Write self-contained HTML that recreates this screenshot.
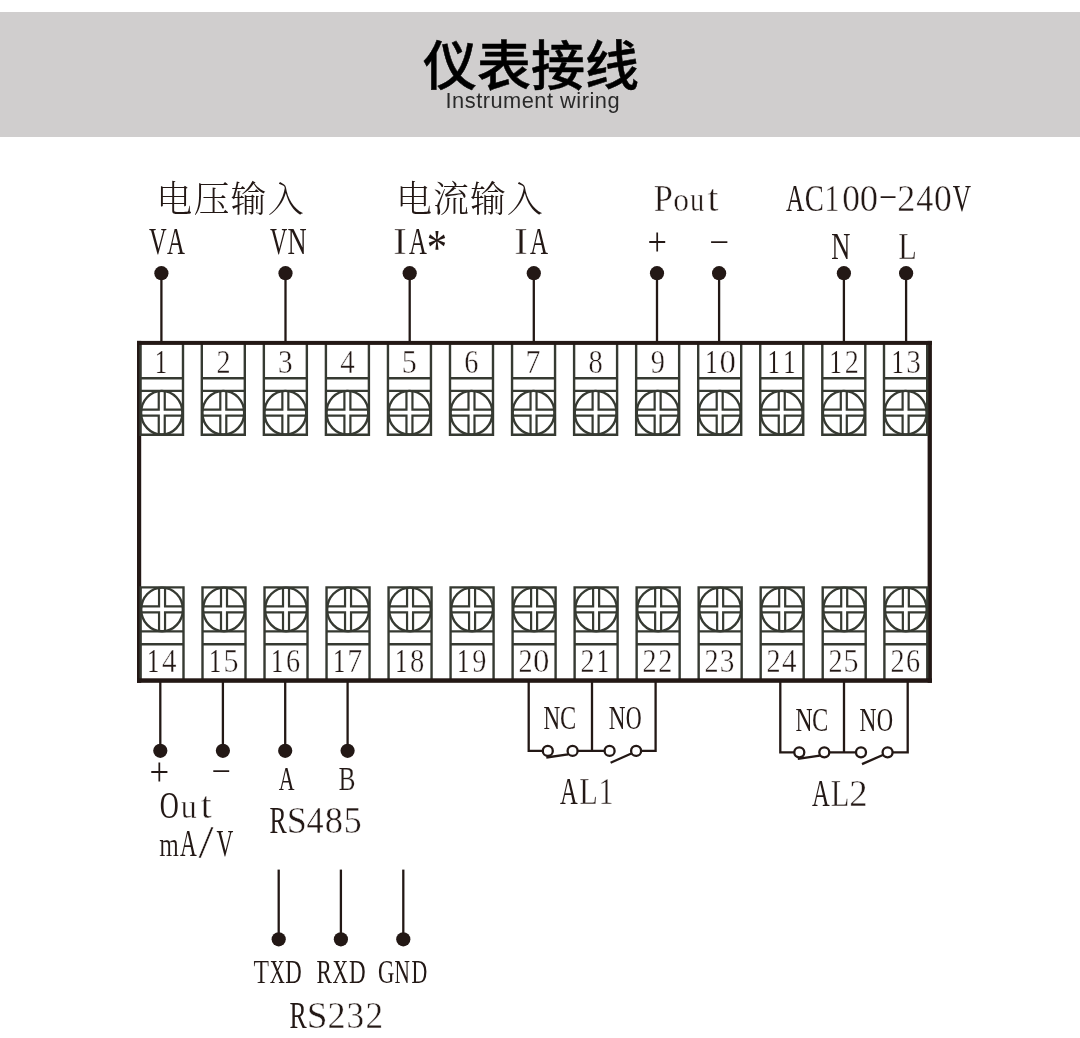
<!DOCTYPE html>
<html lang="zh-CN">
<head>
<meta charset="utf-8">
<title>仪表接线 Instrument wiring</title>
<style>
html,body{margin:0;padding:0;background:#fff;}
body{width:1080px;height:1038px;position:relative;overflow:hidden;}
.banner{position:absolute;left:0;top:11.7px;width:1080px;height:125px;background:#d0cece;}
.title{position:absolute;left:0;top:32px;width:1062px;margin:0;text-align:center;white-space:nowrap;
 font-family:"Liberation Sans","Noto Sans CJK SC",sans-serif;font-weight:500;font-size:54px;line-height:70px;color:#000;letter-spacing:0;-webkit-text-stroke:0.5px #000;}
.subtitle{position:absolute;left:0;top:88px;width:1065.6px;margin:0;text-align:center;white-space:nowrap;
 font-family:"Liberation Sans","Noto Sans CJK SC",sans-serif;font-weight:400;font-size:21.8px;line-height:24px;letter-spacing:0.5px;color:#2a2a2a;}
svg{position:absolute;left:0;top:0;will-change:transform;}
.title,.subtitle{will-change:transform;}
.subtitle{transform:translateY(0.7px);}
svg text{font-family:"Liberation Serif","Noto Serif CJK SC",serif;white-space:pre;}
svg text.cn{font-family:"Liberation Serif","Noto Serif CJK SC",serif;font-weight:300;}
</style>
</head>
<body>
<div class="banner"></div>
<h1 class="title">仪表接线</h1>
<p class="subtitle">Instrument wiring</p>
<svg width="1080" height="1038" viewBox="0 0 1080 1038">
<g class="frame" fill="#231815">
<rect x="137" y="340.9" width="4.2" height="341.9"/>
<rect x="927.6" y="340.9" width="4.3" height="341.9"/>
</g>
<g class="terminals" fill="none" stroke="#363a32" stroke-width="2.4">
<path d="M140.5 344V434.7H183V344"/><path d="M140.5 378.2H183M140.5 390.85H183"/><ellipse cx="161.75" cy="412.7" rx="20.65" ry="21.8"/><path d="M158.75 391.2V409.7H140.5M164.75 391.2V409.7H183M158.75 434.2V415.7H140.5M164.75 434.2V415.7H183" stroke-width="2.2"/>
<path d="M201.8 344V434.7H244.8V344"/><path d="M201.8 378.2H244.8M201.8 390.85H244.8"/><ellipse cx="223.3" cy="412.7" rx="20.9" ry="21.8"/><path d="M220.3 391.2V409.7H201.8M226.3 391.2V409.7H244.8M220.3 434.2V415.7H201.8M226.3 434.2V415.7H244.8" stroke-width="2.2"/>
<path d="M263.85 344V434.7H306.85V344"/><path d="M263.85 378.2H306.85M263.85 390.85H306.85"/><ellipse cx="285.35" cy="412.7" rx="20.9" ry="21.8"/><path d="M282.35 391.2V409.7H263.85M288.35 391.2V409.7H306.85M282.35 434.2V415.7H263.85M288.35 434.2V415.7H306.85" stroke-width="2.2"/>
<path d="M325.9 344V434.7H368.9V344"/><path d="M325.9 378.2H368.9M325.9 390.85H368.9"/><ellipse cx="347.4" cy="412.7" rx="20.9" ry="21.8"/><path d="M344.4 391.2V409.7H325.9M350.4 391.2V409.7H368.9M344.4 434.2V415.7H325.9M350.4 434.2V415.7H368.9" stroke-width="2.2"/>
<path d="M387.95 344V434.7H430.95V344"/><path d="M387.95 378.2H430.95M387.95 390.85H430.95"/><ellipse cx="409.45" cy="412.7" rx="20.9" ry="21.8"/><path d="M406.45 391.2V409.7H387.95M412.45 391.2V409.7H430.95M406.45 434.2V415.7H387.95M412.45 434.2V415.7H430.95" stroke-width="2.2"/>
<path d="M450 344V434.7H493V344"/><path d="M450 378.2H493M450 390.85H493"/><ellipse cx="471.5" cy="412.7" rx="20.9" ry="21.8"/><path d="M468.5 391.2V409.7H450M474.5 391.2V409.7H493M468.5 434.2V415.7H450M474.5 434.2V415.7H493" stroke-width="2.2"/>
<path d="M512.05 344V434.7H555.05V344"/><path d="M512.05 378.2H555.05M512.05 390.85H555.05"/><ellipse cx="533.55" cy="412.7" rx="20.9" ry="21.8"/><path d="M530.55 391.2V409.7H512.05M536.55 391.2V409.7H555.05M530.55 434.2V415.7H512.05M536.55 434.2V415.7H555.05" stroke-width="2.2"/>
<path d="M574.1 344V434.7H617.1V344"/><path d="M574.1 378.2H617.1M574.1 390.85H617.1"/><ellipse cx="595.6" cy="412.7" rx="20.9" ry="21.8"/><path d="M592.6 391.2V409.7H574.1M598.6 391.2V409.7H617.1M592.6 434.2V415.7H574.1M598.6 434.2V415.7H617.1" stroke-width="2.2"/>
<path d="M636.15 344V434.7H679.15V344"/><path d="M636.15 378.2H679.15M636.15 390.85H679.15"/><ellipse cx="657.65" cy="412.7" rx="20.9" ry="21.8"/><path d="M654.65 391.2V409.7H636.15M660.65 391.2V409.7H679.15M654.65 434.2V415.7H636.15M660.65 434.2V415.7H679.15" stroke-width="2.2"/>
<path d="M698.2 344V434.7H741.2V344"/><path d="M698.2 378.2H741.2M698.2 390.85H741.2"/><ellipse cx="719.7" cy="412.7" rx="20.9" ry="21.8"/><path d="M716.7 391.2V409.7H698.2M722.7 391.2V409.7H741.2M716.7 434.2V415.7H698.2M722.7 434.2V415.7H741.2" stroke-width="2.2"/>
<path d="M760.25 344V434.7H803.25V344"/><path d="M760.25 378.2H803.25M760.25 390.85H803.25"/><ellipse cx="781.75" cy="412.7" rx="20.9" ry="21.8"/><path d="M778.75 391.2V409.7H760.25M784.75 391.2V409.7H803.25M778.75 434.2V415.7H760.25M784.75 434.2V415.7H803.25" stroke-width="2.2"/>
<path d="M822.3 344V434.7H865.3V344"/><path d="M822.3 378.2H865.3M822.3 390.85H865.3"/><ellipse cx="843.8" cy="412.7" rx="20.9" ry="21.8"/><path d="M840.8 391.2V409.7H822.3M846.8 391.2V409.7H865.3M840.8 434.2V415.7H822.3M846.8 434.2V415.7H865.3" stroke-width="2.2"/>
<path d="M884 344V434.7H927.2V344"/><path d="M884 378.2H927.2M884 390.85H927.2"/><ellipse cx="905.6" cy="412.7" rx="21" ry="21.8"/><path d="M902.6 391.2V409.7H884M908.6 391.2V409.7H927.2M902.6 434.2V415.7H884M908.6 434.2V415.7H927.2" stroke-width="2.2"/>
<path d="M140.6 679.4V587.4H183.5V679.4"/><path d="M140.6 631.4H183.5M140.6 644.2H183.5"/><ellipse cx="162.05" cy="609.4" rx="20.85" ry="21.8"/><path d="M159.05 587.9V606.4H140.6M165.05 587.9V606.4H183.5M159.05 630.9V612.4H140.6M165.05 630.9V612.4H183.5" stroke-width="2.2"/>
<path d="M202.5 679.4V587.4H245.5V679.4"/><path d="M202.5 631.4H245.5M202.5 644.2H245.5"/><ellipse cx="224" cy="609.4" rx="20.9" ry="21.8"/><path d="M221 587.9V606.4H202.5M227 587.9V606.4H245.5M221 630.9V612.4H202.5M227 630.9V612.4H245.5" stroke-width="2.2"/>
<path d="M264.52 679.4V587.4H307.52V679.4"/><path d="M264.52 631.4H307.52M264.52 644.2H307.52"/><ellipse cx="286.02" cy="609.4" rx="20.9" ry="21.8"/><path d="M283.02 587.9V606.4H264.52M289.02 587.9V606.4H307.52M283.02 630.9V612.4H264.52M289.02 630.9V612.4H307.52" stroke-width="2.2"/>
<path d="M326.54 679.4V587.4H369.54V679.4"/><path d="M326.54 631.4H369.54M326.54 644.2H369.54"/><ellipse cx="348.04" cy="609.4" rx="20.9" ry="21.8"/><path d="M345.04 587.9V606.4H326.54M351.04 587.9V606.4H369.54M345.04 630.9V612.4H326.54M351.04 630.9V612.4H369.54" stroke-width="2.2"/>
<path d="M388.56 679.4V587.4H431.56V679.4"/><path d="M388.56 631.4H431.56M388.56 644.2H431.56"/><ellipse cx="410.06" cy="609.4" rx="20.9" ry="21.8"/><path d="M407.06 587.9V606.4H388.56M413.06 587.9V606.4H431.56M407.06 630.9V612.4H388.56M413.06 630.9V612.4H431.56" stroke-width="2.2"/>
<path d="M450.58 679.4V587.4H493.58V679.4"/><path d="M450.58 631.4H493.58M450.58 644.2H493.58"/><ellipse cx="472.08" cy="609.4" rx="20.9" ry="21.8"/><path d="M469.08 587.9V606.4H450.58M475.08 587.9V606.4H493.58M469.08 630.9V612.4H450.58M475.08 630.9V612.4H493.58" stroke-width="2.2"/>
<path d="M512.6 679.4V587.4H555.6V679.4"/><path d="M512.6 631.4H555.6M512.6 644.2H555.6"/><ellipse cx="534.1" cy="609.4" rx="20.9" ry="21.8"/><path d="M531.1 587.9V606.4H512.6M537.1 587.9V606.4H555.6M531.1 630.9V612.4H512.6M537.1 630.9V612.4H555.6" stroke-width="2.2"/>
<path d="M574.62 679.4V587.4H617.62V679.4"/><path d="M574.62 631.4H617.62M574.62 644.2H617.62"/><ellipse cx="596.12" cy="609.4" rx="20.9" ry="21.8"/><path d="M593.12 587.9V606.4H574.62M599.12 587.9V606.4H617.62M593.12 630.9V612.4H574.62M599.12 630.9V612.4H617.62" stroke-width="2.2"/>
<path d="M636.64 679.4V587.4H679.64V679.4"/><path d="M636.64 631.4H679.64M636.64 644.2H679.64"/><ellipse cx="658.14" cy="609.4" rx="20.9" ry="21.8"/><path d="M655.14 587.9V606.4H636.64M661.14 587.9V606.4H679.64M655.14 630.9V612.4H636.64M661.14 630.9V612.4H679.64" stroke-width="2.2"/>
<path d="M698.66 679.4V587.4H741.66V679.4"/><path d="M698.66 631.4H741.66M698.66 644.2H741.66"/><ellipse cx="720.16" cy="609.4" rx="20.9" ry="21.8"/><path d="M717.16 587.9V606.4H698.66M723.16 587.9V606.4H741.66M717.16 630.9V612.4H698.66M723.16 630.9V612.4H741.66" stroke-width="2.2"/>
<path d="M760.68 679.4V587.4H803.68V679.4"/><path d="M760.68 631.4H803.68M760.68 644.2H803.68"/><ellipse cx="782.18" cy="609.4" rx="20.9" ry="21.8"/><path d="M779.18 587.9V606.4H760.68M785.18 587.9V606.4H803.68M779.18 630.9V612.4H760.68M785.18 630.9V612.4H803.68" stroke-width="2.2"/>
<path d="M822.7 679.4V587.4H865.7V679.4"/><path d="M822.7 631.4H865.7M822.7 644.2H865.7"/><ellipse cx="844.2" cy="609.4" rx="20.9" ry="21.8"/><path d="M841.2 587.9V606.4H822.7M847.2 587.9V606.4H865.7M841.2 630.9V612.4H822.7M847.2 630.9V612.4H865.7" stroke-width="2.2"/>
<path d="M884.4 679.4V587.4H927.3V679.4"/><path d="M884.4 631.4H927.3M884.4 644.2H927.3"/><ellipse cx="905.85" cy="609.4" rx="20.85" ry="21.8"/><path d="M902.85 587.9V606.4H884.4M908.85 587.9V606.4H927.3M902.85 630.9V612.4H884.4M908.85 630.9V612.4H927.3" stroke-width="2.2"/>
</g>
<g class="frame" fill="#231815">
<rect x="137" y="340.9" width="794.9" height="4"/>
<rect x="137" y="678.3" width="794.9" height="4.5"/>
</g>
<g class="wires" fill="none" stroke="#231815" stroke-width="2.3">
<path d="M161.4 273V341.5"/>
<path d="M285.5 273V341.5"/>
<path d="M409.7 273V341.5"/>
<path d="M533.8 273V341.5"/>
<path d="M657 273V341.5"/>
<path d="M719.1 273V341.5"/>
<path d="M843.9 273V341.5"/>
<path d="M906.1 273V341.5"/>
<path d="M160.3 682V750.8"/>
<path d="M222.9 682V750.8"/>
<path d="M285.2 682V750.8"/>
<path d="M347.6 682V750.8"/>
<path d="M278.7 869.6V939.3"/>
<path d="M340.9 869.6V939.3"/>
<path d="M403.3 869.6V939.3"/>
<path d="M528.7 682V750.9H542.8M577.6 750.9H604.6M592 682V750.9M641.1 750.9H655.6V682M546.3 757.5L568.1 754.3M610.6 762.7L631.9 753.3"/>
<circle cx="547.8" cy="750.9" r="5"/>
<circle cx="572.6" cy="750.9" r="5"/>
<circle cx="609.6" cy="750.9" r="5"/>
<circle cx="636.1" cy="750.9" r="5"/>
<path d="M780.3 682V752.3H794.3M829.3 752.3H856M844 682V752.3M892.6 752.3H907.7V682M797.8 758.9L819.8 755.7M862 764.1L883.4 754.7"/>
<circle cx="799.3" cy="752.3" r="5"/>
<circle cx="824.3" cy="752.3" r="5"/>
<circle cx="861" cy="752.3" r="5"/>
<circle cx="887.6" cy="752.3" r="5"/>
</g>
<g class="dots" fill="#231815">
<circle cx="161.4" cy="273.2" r="7.1"/>
<circle cx="285.5" cy="273.2" r="7.1"/>
<circle cx="409.7" cy="273.2" r="7.1"/>
<circle cx="533.8" cy="273.2" r="7.1"/>
<circle cx="657" cy="273.2" r="7.1"/>
<circle cx="719.1" cy="273.2" r="7.1"/>
<circle cx="843.9" cy="273.2" r="7.1"/>
<circle cx="906.1" cy="273.2" r="7.1"/>
<circle cx="160.3" cy="750.8" r="7.1"/>
<circle cx="222.9" cy="750.8" r="7.1"/>
<circle cx="285.2" cy="750.8" r="7.1"/>
<circle cx="347.6" cy="750.8" r="7.1"/>
<circle cx="278.7" cy="939.3" r="7.1"/>
<circle cx="340.9" cy="939.3" r="7.1"/>
<circle cx="403.3" cy="939.3" r="7.1"/>
</g>
<g class="labels">
<text class="cn" x="156.3" y="212" font-size="36" letter-spacing="1.15" fill="#231815">电压输入</text>
<text class="cn" x="396.1" y="212" font-size="36" letter-spacing="0.9" fill="#231815">电流输入</text>
<text aria-label="VA" font-size="38.63" fill="#231815"><tspan x="148.95" y="253.6" textLength="17.66" lengthAdjust="spacingAndGlyphs">V</tspan><tspan x="167.11" y="253.6" textLength="17.92" lengthAdjust="spacingAndGlyphs">A</tspan></text>
<text aria-label="VN" font-size="38.63" fill="#231815"><tspan x="270.08" y="253.6" textLength="17.24" lengthAdjust="spacingAndGlyphs">V</tspan><tspan x="287.39" y="253.6" textLength="19.17" lengthAdjust="spacingAndGlyphs">N</tspan></text>
<text aria-label="IA*" font-size="38.63" fill="#231815"><tspan x="393.23" y="253.6" textLength="13.51" lengthAdjust="spacingAndGlyphs" stroke="#fff" stroke-width="0.45">I</tspan><tspan x="409.01" y="253.6" textLength="17.87" lengthAdjust="spacingAndGlyphs">A</tspan><tspan x="426.86" y="264.46" textLength="20.33" lengthAdjust="spacingAndGlyphs" font-size="50.72">*</tspan></text>
<text aria-label="IA" font-size="38.63" fill="#231815"><tspan x="514.26" y="253.6" textLength="13.51" lengthAdjust="spacingAndGlyphs" stroke="#fff" stroke-width="0.45">I</tspan><tspan x="529.95" y="253.6" textLength="18.05" lengthAdjust="spacingAndGlyphs">A</tspan></text>
<text aria-label="Pout" font-size="38.63" fill="#231815"><tspan x="653.79" y="210.6" textLength="19.11" lengthAdjust="spacingAndGlyphs" stroke="#fff" stroke-width="0.45">P</tspan><tspan x="673.21" y="210.6" textLength="15.81" lengthAdjust="spacingAndGlyphs" font-size="33.99" stroke="#fff" stroke-width="0.45">o</tspan><tspan x="689.97" y="210.6" textLength="14.26" lengthAdjust="spacingAndGlyphs" font-size="33.99" stroke="#fff" stroke-width="0.45">u</tspan><tspan x="707.4" y="210.6" textLength="10.95" lengthAdjust="spacingAndGlyphs" stroke="#fff" stroke-width="0.45">t</tspan></text>
<text aria-label="+" font-size="38.63" fill="#231815"><tspan x="647.51" y="255.32" textLength="19.39" lengthAdjust="spacingAndGlyphs" font-size="39.07">+</tspan></text>
<text aria-label="-" font-size="38.63" fill="#231815"><tspan x="708.78" y="247.81" textLength="20.9" lengthAdjust="spacingAndGlyphs" font-size="22.76">-</tspan></text>
<text aria-label="AC100-240V" font-size="38.63" fill="#231815"><tspan x="785.9" y="210.8" textLength="18.23" lengthAdjust="spacingAndGlyphs">A</tspan><tspan x="804.87" y="210.8" textLength="19.16" lengthAdjust="spacingAndGlyphs" stroke="#fff" stroke-width="0.25">C</tspan><tspan x="824.25" y="210.8" textLength="15.34" lengthAdjust="spacingAndGlyphs" stroke="#fff" stroke-width="0.44">1</tspan><tspan x="842.2" y="210.8" textLength="17.7" lengthAdjust="spacingAndGlyphs" stroke="#fff" stroke-width="0.45">0</tspan><tspan x="859.76" y="210.8" textLength="18.29" lengthAdjust="spacingAndGlyphs" stroke="#fff" stroke-width="0.45">0</tspan><tspan x="878.62" y="202.76" textLength="19.1" lengthAdjust="spacingAndGlyphs" font-size="22.76">-</tspan><tspan x="897.16" y="210.8" textLength="18.09" lengthAdjust="spacingAndGlyphs" stroke="#fff" stroke-width="0.45">2</tspan><tspan x="916.18" y="210.8" textLength="17.1" lengthAdjust="spacingAndGlyphs" stroke="#fff" stroke-width="0.45">4</tspan><tspan x="934" y="210.8" textLength="17.7" lengthAdjust="spacingAndGlyphs" stroke="#fff" stroke-width="0.45">0</tspan><tspan x="952.67" y="210.8" textLength="18.27" lengthAdjust="spacingAndGlyphs">V</tspan></text>
<text aria-label="N" font-size="38.63" fill="#231815"><tspan x="831.29" y="259" textLength="19.17" lengthAdjust="spacingAndGlyphs">N</tspan></text>
<text aria-label="L" font-size="38.63" fill="#231815"><tspan x="898.37" y="259" textLength="18.61" lengthAdjust="spacingAndGlyphs" stroke="#fff" stroke-width="0.42">L</tspan></text>
<text aria-label="1" font-size="34.4" fill="#231815"><tspan x="154.78" y="372.9" textLength="12.36" lengthAdjust="spacingAndGlyphs" stroke="#fff" stroke-width="0.13">1</tspan></text>
<text aria-label="2" font-size="34.4" fill="#231815"><tspan x="216.46" y="372.9" textLength="14.09" lengthAdjust="spacingAndGlyphs" stroke="#fff" stroke-width="0.45">2</tspan></text>
<text aria-label="3" font-size="34.4" fill="#231815"><tspan x="277.95" y="372.9" textLength="14.65" lengthAdjust="spacingAndGlyphs" stroke="#fff" stroke-width="0.45">3</tspan></text>
<text aria-label="4" font-size="34.4" fill="#231815"><tspan x="340.13" y="372.9" textLength="14.52" lengthAdjust="spacingAndGlyphs" stroke="#fff" stroke-width="0.45">4</tspan></text>
<text aria-label="5" font-size="34.4" fill="#231815"><tspan x="401.7" y="372.9" textLength="15.02" lengthAdjust="spacingAndGlyphs" stroke="#fff" stroke-width="0.45">5</tspan></text>
<text aria-label="6" font-size="34.4" fill="#231815"><tspan x="464.28" y="372.9" textLength="14.16" lengthAdjust="spacingAndGlyphs" stroke="#fff" stroke-width="0.45">6</tspan></text>
<text aria-label="7" font-size="34.4" fill="#231815"><tspan x="525.58" y="372.9" textLength="14.93" lengthAdjust="spacingAndGlyphs" stroke="#fff" stroke-width="0.45">7</tspan></text>
<text aria-label="8" font-size="34.4" fill="#231815"><tspan x="588.51" y="372.9" textLength="14.27" lengthAdjust="spacingAndGlyphs" stroke="#fff" stroke-width="0.45">8</tspan></text>
<text aria-label="9" font-size="34.4" fill="#231815"><tspan x="650.74" y="372.9" textLength="14.18" lengthAdjust="spacingAndGlyphs" stroke="#fff" stroke-width="0.45">9</tspan></text>
<text aria-label="10" font-size="34.4" fill="#231815"><tspan x="705.33" y="372.9" textLength="12.36" lengthAdjust="spacingAndGlyphs" stroke="#fff" stroke-width="0.13">1</tspan><tspan x="719.45" y="372.9" textLength="16.4" lengthAdjust="spacingAndGlyphs" stroke="#fff" stroke-width="0.45">0</tspan></text>
<text aria-label="11" font-size="34.4" fill="#231815"><tspan x="767.38" y="372.9" textLength="12.36" lengthAdjust="spacingAndGlyphs" stroke="#fff" stroke-width="0.13">1</tspan><tspan x="783.18" y="372.9" textLength="12.36" lengthAdjust="spacingAndGlyphs" stroke="#fff" stroke-width="0.13">1</tspan></text>
<text aria-label="12" font-size="34.4" fill="#231815"><tspan x="829.43" y="372.9" textLength="12.36" lengthAdjust="spacingAndGlyphs" stroke="#fff" stroke-width="0.13">1</tspan><tspan x="844.86" y="372.9" textLength="14.09" lengthAdjust="spacingAndGlyphs" stroke="#fff" stroke-width="0.45">2</tspan></text>
<text aria-label="13" font-size="34.4" fill="#231815"><tspan x="891.48" y="372.9" textLength="12.36" lengthAdjust="spacingAndGlyphs" stroke="#fff" stroke-width="0.13">1</tspan><tspan x="906.35" y="372.9" textLength="14.65" lengthAdjust="spacingAndGlyphs" stroke="#fff" stroke-width="0.45">3</tspan></text>
<text aria-label="14" font-size="34.4" fill="#231815"><tspan x="146.88" y="671.9" textLength="12.36" lengthAdjust="spacingAndGlyphs" stroke="#fff" stroke-width="0.13">1</tspan><tspan x="161.88" y="671.9" textLength="14.52" lengthAdjust="spacingAndGlyphs" stroke="#fff" stroke-width="0.45">4</tspan></text>
<text aria-label="15" font-size="34.4" fill="#231815"><tspan x="208.88" y="671.9" textLength="12.36" lengthAdjust="spacingAndGlyphs" stroke="#fff" stroke-width="0.13">1</tspan><tspan x="223.4" y="671.9" textLength="15.02" lengthAdjust="spacingAndGlyphs" stroke="#fff" stroke-width="0.45">5</tspan></text>
<text aria-label="16" font-size="34.4" fill="#231815"><tspan x="270.88" y="671.9" textLength="12.36" lengthAdjust="spacingAndGlyphs" stroke="#fff" stroke-width="0.13">1</tspan><tspan x="285.93" y="671.9" textLength="14.16" lengthAdjust="spacingAndGlyphs" stroke="#fff" stroke-width="0.45">6</tspan></text>
<text aria-label="17" font-size="34.4" fill="#231815"><tspan x="332.88" y="671.9" textLength="12.36" lengthAdjust="spacingAndGlyphs" stroke="#fff" stroke-width="0.13">1</tspan><tspan x="347.18" y="671.9" textLength="14.93" lengthAdjust="spacingAndGlyphs" stroke="#fff" stroke-width="0.45">7</tspan></text>
<text aria-label="18" font-size="34.4" fill="#231815"><tspan x="394.88" y="671.9" textLength="12.36" lengthAdjust="spacingAndGlyphs" stroke="#fff" stroke-width="0.13">1</tspan><tspan x="410.06" y="671.9" textLength="14.27" lengthAdjust="spacingAndGlyphs" stroke="#fff" stroke-width="0.45">8</tspan></text>
<text aria-label="19" font-size="34.4" fill="#231815"><tspan x="456.88" y="671.9" textLength="12.36" lengthAdjust="spacingAndGlyphs" stroke="#fff" stroke-width="0.13">1</tspan><tspan x="472.24" y="671.9" textLength="14.18" lengthAdjust="spacingAndGlyphs" stroke="#fff" stroke-width="0.45">9</tspan></text>
<text aria-label="20" font-size="34.4" fill="#231815"><tspan x="518.51" y="671.9" textLength="14.09" lengthAdjust="spacingAndGlyphs" stroke="#fff" stroke-width="0.45">2</tspan><tspan x="533" y="671.9" textLength="16.4" lengthAdjust="spacingAndGlyphs" stroke="#fff" stroke-width="0.45">0</tspan></text>
<text aria-label="21" font-size="34.4" fill="#231815"><tspan x="580.51" y="671.9" textLength="14.09" lengthAdjust="spacingAndGlyphs" stroke="#fff" stroke-width="0.45">2</tspan><tspan x="596.68" y="671.9" textLength="12.36" lengthAdjust="spacingAndGlyphs" stroke="#fff" stroke-width="0.13">1</tspan></text>
<text aria-label="22" font-size="34.4" fill="#231815"><tspan x="642.51" y="671.9" textLength="14.09" lengthAdjust="spacingAndGlyphs" stroke="#fff" stroke-width="0.45">2</tspan><tspan x="658.31" y="671.9" textLength="14.09" lengthAdjust="spacingAndGlyphs" stroke="#fff" stroke-width="0.45">2</tspan></text>
<text aria-label="23" font-size="34.4" fill="#231815"><tspan x="704.51" y="671.9" textLength="14.09" lengthAdjust="spacingAndGlyphs" stroke="#fff" stroke-width="0.45">2</tspan><tspan x="719.75" y="671.9" textLength="14.65" lengthAdjust="spacingAndGlyphs" stroke="#fff" stroke-width="0.45">3</tspan></text>
<text aria-label="24" font-size="34.4" fill="#231815"><tspan x="766.51" y="671.9" textLength="14.09" lengthAdjust="spacingAndGlyphs" stroke="#fff" stroke-width="0.45">2</tspan><tspan x="781.88" y="671.9" textLength="14.52" lengthAdjust="spacingAndGlyphs" stroke="#fff" stroke-width="0.45">4</tspan></text>
<text aria-label="25" font-size="34.4" fill="#231815"><tspan x="828.51" y="671.9" textLength="14.09" lengthAdjust="spacingAndGlyphs" stroke="#fff" stroke-width="0.45">2</tspan><tspan x="843.4" y="671.9" textLength="15.02" lengthAdjust="spacingAndGlyphs" stroke="#fff" stroke-width="0.45">5</tspan></text>
<text aria-label="26" font-size="34.4" fill="#231815"><tspan x="890.51" y="671.9" textLength="14.09" lengthAdjust="spacingAndGlyphs" stroke="#fff" stroke-width="0.45">2</tspan><tspan x="905.93" y="671.9" textLength="14.16" lengthAdjust="spacingAndGlyphs" stroke="#fff" stroke-width="0.45">6</tspan></text>
<text aria-label="+" font-size="38.63" fill="#231815"><tspan x="149.42" y="784.52" textLength="19.63" lengthAdjust="spacingAndGlyphs" font-size="39.07">+</tspan></text>
<text aria-label="-" font-size="38.63" fill="#231815"><tspan x="210.92" y="776.76" textLength="20.45" lengthAdjust="spacingAndGlyphs" font-size="22.76">-</tspan></text>
<text aria-label="A" font-size="34.05" fill="#231815"><tspan x="278.84" y="790.4" textLength="15.77" lengthAdjust="spacingAndGlyphs">A</tspan></text>
<text aria-label="B" font-size="34.05" fill="#231815"><tspan x="338.52" y="790.4" textLength="16.98" lengthAdjust="spacingAndGlyphs" stroke="#fff" stroke-width="0.23">B</tspan></text>
<text aria-label="Out" font-size="38.63" fill="#231815"><tspan x="159.72" y="818.2" textLength="19.01" lengthAdjust="spacingAndGlyphs">O</tspan><tspan x="180.73" y="818.2" textLength="15.97" lengthAdjust="spacingAndGlyphs" font-size="33.99" stroke="#fff" stroke-width="0.45">u</tspan><tspan x="200.7" y="818.2" textLength="10.95" lengthAdjust="spacingAndGlyphs" stroke="#fff" stroke-width="0.45">t</tspan></text>
<text aria-label="mA/V" font-size="38.63" fill="#231815"><tspan x="159.32" y="855.8" textLength="19.62" lengthAdjust="spacingAndGlyphs" font-size="33.99" stroke="#fff" stroke-width="0.21">m</tspan><tspan x="180.02" y="855.8" textLength="16.8" lengthAdjust="spacingAndGlyphs">A</tspan><tspan x="198.25" y="857.99" textLength="15.5" lengthAdjust="spacingAndGlyphs" font-size="46.64" stroke="#fff" stroke-width="0.5">/</tspan><tspan x="216.59" y="855.8" textLength="16.82" lengthAdjust="spacingAndGlyphs">V</tspan></text>
<text aria-label="RS485" font-size="38.63" fill="#231815"><tspan x="269.51" y="832.8" textLength="17.18" lengthAdjust="spacingAndGlyphs">R</tspan><tspan x="286.84" y="832.8" textLength="20.05" lengthAdjust="spacingAndGlyphs" stroke="#fff" stroke-width="0.45">S</tspan><tspan x="306.58" y="832.8" textLength="17.1" lengthAdjust="spacingAndGlyphs" stroke="#fff" stroke-width="0.45">4</tspan><tspan x="324.86" y="832.8" textLength="18.23" lengthAdjust="spacingAndGlyphs" stroke="#fff" stroke-width="0.45">8</tspan><tspan x="343.66" y="832.8" textLength="18" lengthAdjust="spacingAndGlyphs" stroke="#fff" stroke-width="0.45">5</tspan></text>
<text aria-label="TXD RXD GND" font-size="34.05" fill="#231815"><tspan x="253.44" y="982.9" textLength="15.58" lengthAdjust="spacingAndGlyphs" stroke="#fff" stroke-width="0.24">T</tspan><tspan x="269.69" y="982.9" textLength="15.14" lengthAdjust="spacingAndGlyphs">X</tspan><tspan x="285.29" y="982.9" textLength="16.47" lengthAdjust="spacingAndGlyphs">D</tspan> <tspan x="316.58" y="982.9" textLength="15.4" lengthAdjust="spacingAndGlyphs">R</tspan><tspan x="332.58" y="982.9" textLength="15.56" lengthAdjust="spacingAndGlyphs">X</tspan><tspan x="349.08" y="982.9" textLength="16.69" lengthAdjust="spacingAndGlyphs">D</tspan> <tspan x="377.97" y="982.9" textLength="16.33" lengthAdjust="spacingAndGlyphs">G</tspan><tspan x="394.54" y="982.9" textLength="15.4" lengthAdjust="spacingAndGlyphs">N</tspan><tspan x="411.62" y="982.9" textLength="15.81" lengthAdjust="spacingAndGlyphs">D</tspan></text>
<text aria-label="RS232" font-size="38.63" fill="#231815"><tspan x="289.51" y="1027.6" textLength="17.18" lengthAdjust="spacingAndGlyphs">R</tspan><tspan x="306.76" y="1027.6" textLength="20.7" lengthAdjust="spacingAndGlyphs" stroke="#fff" stroke-width="0.45">S</tspan><tspan x="327.56" y="1027.6" textLength="18.09" lengthAdjust="spacingAndGlyphs" stroke="#fff" stroke-width="0.45">2</tspan><tspan x="346.47" y="1027.6" textLength="17.55" lengthAdjust="spacingAndGlyphs" stroke="#fff" stroke-width="0.45">3</tspan><tspan x="365.5" y="1027.6" textLength="17.59" lengthAdjust="spacingAndGlyphs" stroke="#fff" stroke-width="0.45">2</tspan></text>
<text aria-label="NC" font-size="34.05" fill="#231815"><tspan x="543.55" y="728.8" textLength="16.69" lengthAdjust="spacingAndGlyphs">N</tspan><tspan x="560.05" y="728.8" textLength="16.24" lengthAdjust="spacingAndGlyphs" stroke="#fff" stroke-width="0.12">C</tspan></text>
<text aria-label="NO" font-size="34.05" fill="#231815"><tspan x="608.74" y="728.8" textLength="16.69" lengthAdjust="spacingAndGlyphs">N</tspan><tspan x="625.65" y="728.8" textLength="15.91" lengthAdjust="spacingAndGlyphs">O</tspan></text>
<text aria-label="AL1" font-size="38.63" fill="#231815"><tspan x="560.11" y="803.5" textLength="17.72" lengthAdjust="spacingAndGlyphs">A</tspan><tspan x="579.37" y="803.5" textLength="18.61" lengthAdjust="spacingAndGlyphs" stroke="#fff" stroke-width="0.42">L</tspan><tspan x="598.39" y="803.5" textLength="15.13" lengthAdjust="spacingAndGlyphs" stroke="#fff" stroke-width="0.4">1</tspan></text>
<text aria-label="NC" font-size="34.05" fill="#231815"><tspan x="795.57" y="730.6" textLength="17.02" lengthAdjust="spacingAndGlyphs">N</tspan><tspan x="812.04" y="730.6" textLength="16.36" lengthAdjust="spacingAndGlyphs" stroke="#fff" stroke-width="0.14">C</tspan></text>
<text aria-label="NO" font-size="34.05" fill="#231815"><tspan x="859.58" y="730.6" textLength="16.91" lengthAdjust="spacingAndGlyphs">N</tspan><tspan x="876.82" y="730.6" textLength="16.36" lengthAdjust="spacingAndGlyphs">O</tspan></text>
<text aria-label="AL2" font-size="38.63" fill="#231815"><tspan x="811.91" y="805.5" textLength="17.72" lengthAdjust="spacingAndGlyphs">A</tspan><tspan x="830.77" y="805.5" textLength="18.61" lengthAdjust="spacingAndGlyphs" stroke="#fff" stroke-width="0.42">L</tspan><tspan x="849.24" y="805.5" textLength="18.33" lengthAdjust="spacingAndGlyphs" stroke="#fff" stroke-width="0.45">2</tspan></text>
</g>
</svg>
</body>
</html>
